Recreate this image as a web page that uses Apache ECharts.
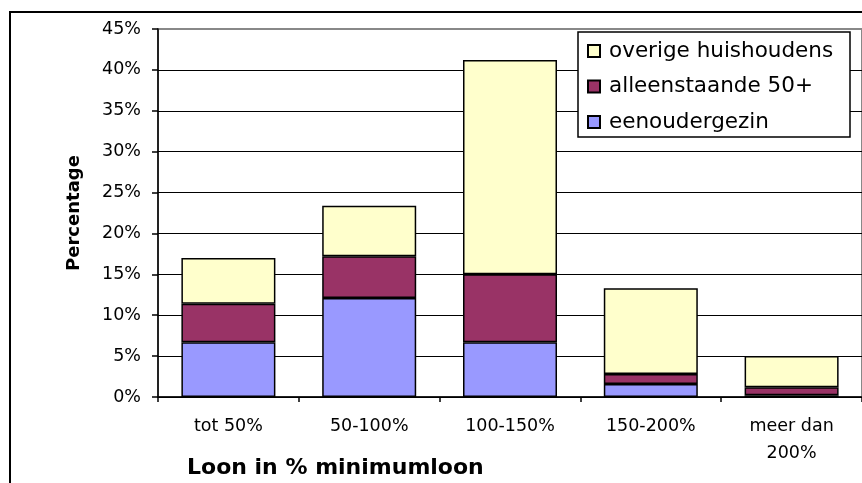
<!DOCTYPE html>
<html>
<head>
<meta charset="utf-8">
<script src="https://cdn.jsdelivr.net/npm/echarts@6/dist/echarts.min.js"></script>
<style>
html,body{margin:0;padding:0;background:#fff;}
#chart{width:862px;height:483px;}
</style>
</head>
<body>
<div id="chart"></div>
<script>
const categories = ['tot 50%', '50-100%', '100-150%', '150-200%', 'meer dan\n200%'];
const eenoudergezin = [6.7, 12.1, 6.7, 1.6, 0.2];
const alleenstaande50 = [4.7, 5.1, 8.3, 1.2, 1.0];
const overigeHuishoudens = [5.6, 6.2, 26.2, 10.5, 3.8];
const seriesNames = ['eenoudergezin', 'alleenstaande 50+', 'overige huishoudens'];
const legendOrder = ['overige huishoudens', 'alleenstaande 50+', 'eenoudergezin'];
const yTicks = { min: 0, max: 45, interval: 5 };
const xAxisTitle = 'Loon in % minimumloon';
const yAxisTitle = 'Percentage';

const FONT = 'DejaVu Sans';
const chart = echarts.init(document.getElementById('chart'), null, { renderer: 'canvas' });

function barSeries(name, data, color) {
  return {
    name: name,
    type: 'bar',
    stack: 'total',
    data: data,
    barWidth: 94,
    itemStyle: { color: color, borderColor: '#000', borderWidth: 1.5 },
    emphasis: { disabled: true }
  };
}

chart.setOption({
  animation: false,
  backgroundColor: '#fff',
  textStyle: { fontFamily: FONT, color: '#000' },
  grid: {
    left: 158, top: 29, width: 710, height: 368,
    show: true, borderColor: '#888', borderWidth: 2, backgroundColor: 'transparent',
    containLabel: false
  },
  legend: {
    data: legendOrder,
    orient: 'vertical',
    left: 587, top: 40,
    itemWidth: 12, itemHeight: 12,
    itemGap: 13.5,
    icon: 'rect',
    selectedMode: false,
    padding: 0,
    z: 10,
    textStyle: { fontFamily: FONT, fontSize: 21.5, color: '#000', lineHeight: 22, padding: [0, 0, 0, 4] }
  },
  xAxis: {
    type: 'category',
    data: categories,
    boundaryGap: true,
    axisLine: { lineStyle: { color: '#000', width: 1.5 } },
    axisTick: { show: true, inside: false, length: 5, lineStyle: { color: '#000', width: 1.5 } },
    axisLabel: { fontFamily: FONT, fontSize: 17.5, color: '#000', margin: 16, lineHeight: 27, interval: 0 }
  },
  yAxis: {
    type: 'value',
    min: yTicks.min, max: yTicks.max, interval: yTicks.interval,
    name: yAxisTitle,
    nameLocation: 'middle',
    nameRotate: 90,
    nameGap: 75,
    nameTextStyle: { fontFamily: FONT, fontSize: 18, fontWeight: 'bold', color: '#000' },
    axisLine: { show: true, lineStyle: { color: '#000', width: 1.5 } },
    axisTick: { show: true, inside: false, length: 6, lineStyle: { color: '#000', width: 1.5 } },
    axisLabel: { fontFamily: FONT, fontSize: 17.5, color: '#000', margin: 17, formatter: '{value}%' },
    splitLine: { show: true, lineStyle: { color: ['#000','#000','#000','#000','#000','#000','#000','#000','#000','#888'], width: 1.2 } }
  },
  graphic: [
    { type: 'rect', shape: { x: 10, y: 12, width: 900, height: 500 }, style: { fill: 'none', stroke: '#000', lineWidth: 2 }, z: 0 },
    { type: 'rect', shape: { x: 578, y: 32, width: 272, height: 105 }, style: { fill: '#fff', stroke: '#000', lineWidth: 1.5 }, z: 5 },
    { type: 'text', left: 187, top: 457, style: { text: xAxisTitle, fontFamily: FONT, fontSize: 22, fontWeight: 'bold', fill: '#000' }, z: 5 }
  ],
  series: [
    barSeries(seriesNames[0], eenoudergezin, '#9999FF'),
    barSeries(seriesNames[1], alleenstaande50, '#993366'),
    barSeries(seriesNames[2], overigeHuishoudens, '#FFFFCC')
  ]
});
</script>
</body>
</html>
